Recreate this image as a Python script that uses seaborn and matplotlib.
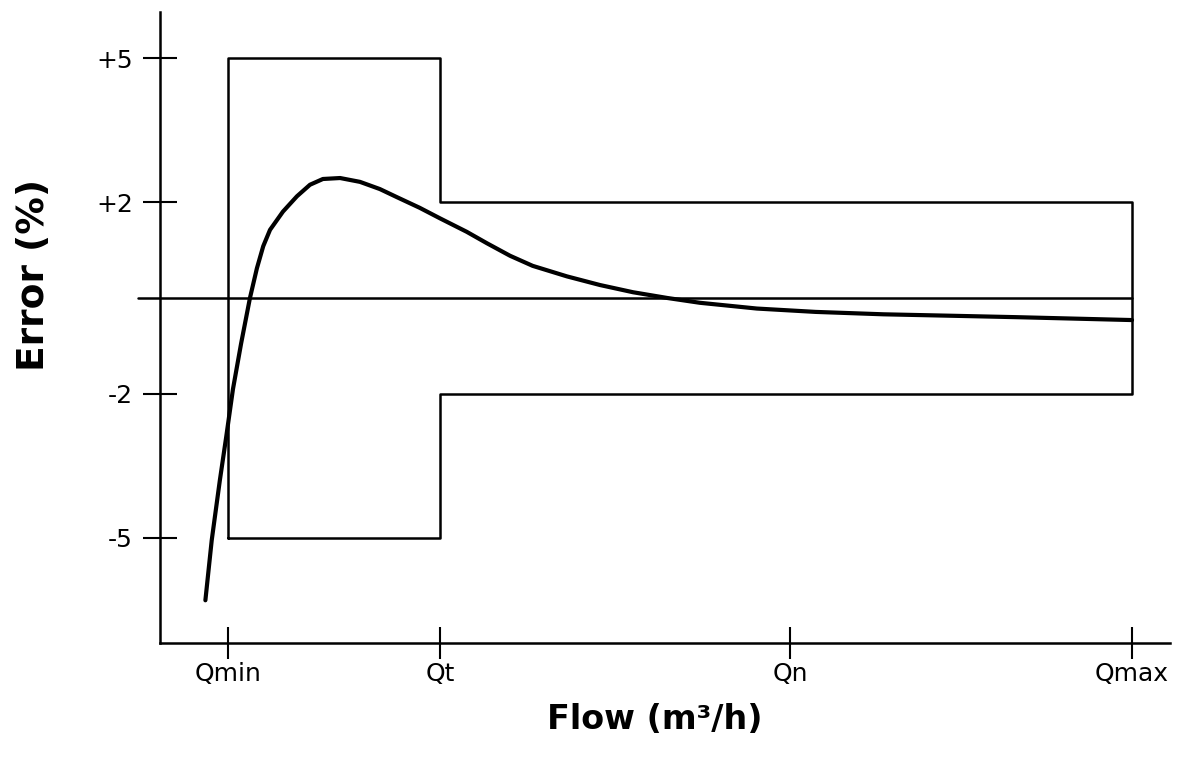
import matplotlib
matplotlib.use("Agg")
import matplotlib.pyplot as plt
import pandas as pd
import seaborn as sns

# flow axis positions (relative, Qmin = 0 .. Qmax = 100)
flow_labels = ["Qmin", "Qt", "Qn", "Qmax"]
flow_pos = [0.0, 23.5, 62.2, 100.0]

error_ticks = [5, 2, -2, -5]
error_tick_labels = ["+5", "+2", "-2", "-5"]

# permitted error bands
wide_limit = 5.0    # Qmin .. Qt
narrow_limit = 2.0  # Qt .. Qmax

# meter error curve
curve_flow = [-2.5, -1.8, -0.9, -0.2, 0.55, 1.45, 2.43, 3.2, 3.9, 4.65, 6.08,
              7.63, 9.07, 10.5, 12.4, 14.6, 16.8, 18.7, 21.2, 23.45, 26.4,
              28.65, 31.2, 33.7, 37.5, 41.15, 44.8, 48.6, 52.2, 58.5, 65.0,
              72.5, 80.0, 87.3, 100.0]
curve_error = [-6.3, -5.05, -3.8, -2.9, -1.9, -0.95, 0.0, 0.62, 1.08, 1.42, 1.8,
               2.12, 2.36, 2.48, 2.5, 2.42, 2.27, 2.1, 1.88, 1.66, 1.38,
               1.14, 0.88, 0.67, 0.45, 0.27, 0.12, 0.0, -0.1, -0.22, -0.29,
               -0.34, -0.37, -0.4, -0.46]


def main() -> None:
    qmin, qt, _, qmax = flow_pos
    limits = pd.DataFrame({
        "flow": [qmin, qmin, qt, qt, qmax, qmax, qt, qt, qmin],
        "error": [-wide_limit, wide_limit, wide_limit, narrow_limit, narrow_limit,
                  -narrow_limit, -narrow_limit, -wide_limit, -wide_limit],
    })
    curve = pd.DataFrame({"flow": curve_flow, "error": curve_error})

    sns.set_style("white")
    plt.rcParams["font.family"] = ["DejaVu Sans"]
    plt.rcParams["text.color"] = "black"
    plt.rcParams["axes.labelcolor"] = "black"

    fig = plt.figure(figsize=(11.97, 7.70), dpi=100)
    ax = fig.add_axes([160 / 1197, 127 / 770, 1010 / 1197, 631 / 770])

    sns.lineplot(data=limits, x="flow", y="error", sort=False, estimator=None,
                 color="black", linewidth=1.8, ax=ax)
    ax.plot([-10.0, qmax], [0, 0], color="black", linewidth=1.8, clip_on=False)
    sns.lineplot(data=curve, x="flow", y="error", sort=False, estimator=None,
                 color="black", linewidth=3.0, solid_joinstyle="round",
                 solid_capstyle="round", ax=ax)

    ax.set_xlim(-7.52, 104.2)
    ax.set_ylim(-7.19, 5.96)
    for side in ["top", "right"]:
        ax.spines[side].set_visible(False)
    for side in ["left", "bottom"]:
        ax.spines[side].set_linewidth(1.8)
        ax.spines[side].set_color("black")

    ax.set_xticks(flow_pos)
    ax.set_xticklabels(flow_labels, fontsize=18)
    ax.set_yticks(error_ticks)
    ax.set_yticklabels(error_tick_labels, fontsize=18)
    ax.tick_params(axis="x", bottom=True, direction="inout", length=23, width=1.5,
                   pad=2, colors="black")
    ax.tick_params(axis="y", left=True, direction="inout", length=25, width=1.5,
                   pad=7, colors="black")

    ax.set_xlabel("Flow (m³/h)", fontsize=24, fontweight="bold")
    ax.set_ylabel("Error (%)", fontsize=27, fontweight="bold")
    ax.xaxis.set_label_coords(0.49, -0.095)
    ax.yaxis.set_label_coords(-0.107, 0.583)

    fig.savefig("out.png", dpi=100)
    plt.close(fig)


if __name__ == "__main__":
    main()
